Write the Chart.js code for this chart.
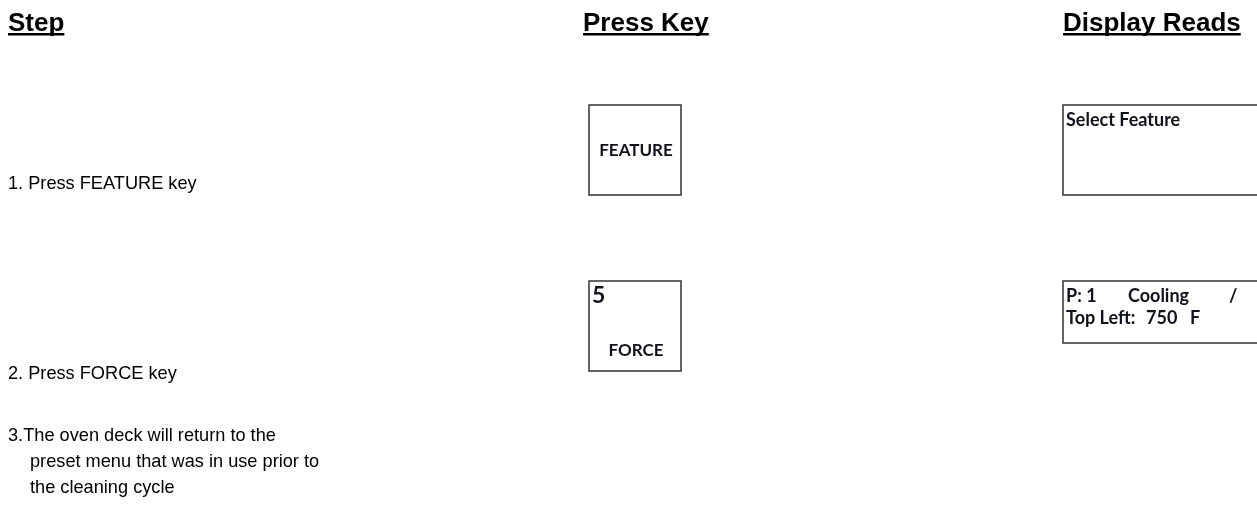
<!DOCTYPE html>
<html>
<head>
<meta charset="utf-8">
<script src="https://cdn.jsdelivr.net/npm/chart.js@4/dist/chart.umd.min.js"></script>
<style>
  html, body { margin: 0; padding: 0; background: #fff; }
  #wrap { width: 1257px; height: 510px; }
</style>
</head>
<body>
<div id="wrap"><canvas id="c" width="1257" height="510"></canvas></div>
<script>
// content of the page
var headers = ['Step', 'Press Key', 'Display Reads'];
var steps = [
    ['1. Press FEATURE key'],
    ['2. Press FORCE key'],
    ['3.The oven deck will return to the', 'preset menu that was in use prior to', 'the cleaning cycle']
];
var keyNumbers = ['', '5'];
var keyNames = ['FEATURE', 'FORCE'];
var displayRows = [
    [['Select Feature']],
    [['P: 1', 'Cooling', '/'], ['Top Left:', '750', 'F']]
];

// layout (page pixels, used as axis values)
var headerX = [8, 583, 1063];
var headerY = 31;
var stepY = [189, 379, 441];
var stepLineGap = 26;
var stepIndent = 22;
var keyBoxes = [[589, 105, 681, 195], [589, 281, 681, 371]];
var displayBoxes = [[1063, 105, 1262, 195], [1063, 281, 1262, 343]];
var displayColX = [1066, 1128, 1229];
var displayColX2 = [1066, 1146, 1190];

var bodyFont = '18.2px "Liberation Sans", Arial, sans-serif';
var headFont = 'bold 26px "Liberation Sans", Arial, sans-serif';
var keyFont = 'bold 17px Lato, "Open Sans", sans-serif';
var displayFont = 'bold 18px Lato, "Open Sans", sans-serif';

var pagePlugin = {
    id: 'page',
    afterDraw: function (chart) {
        var ctx = chart.ctx;
        var sx = chart.scales.x, sy = chart.scales.y;
        function X(v) { return sx.getPixelForValue(v); }
        function Y(v) { return sy.getPixelForValue(v); }
        ctx.save();
        ctx.textBaseline = 'alphabetic';
        ctx.fillStyle = '#000';

        // headers, bold + underlined
        ctx.font = headFont;
        headers.forEach(function (h, i) {
            var w = ctx.measureText(h).width;
            ctx.fillText(h, X(headerX[i]), Y(headerY));
            ctx.fillRect(X(headerX[i]), Y(headerY + 2), w, 2.5);
        });

        // step texts
        ctx.font = bodyFont;
        steps.forEach(function (lines, i) {
            lines.forEach(function (t, j) {
                var x = headerX[0] + (j > 0 ? stepIndent : 0);
                ctx.fillText(t, X(x), Y(stepY[i] + j * stepLineGap));
            });
        });

        // key boxes
        ctx.strokeStyle = '#333';
        ctx.lineWidth = 1.5;
        keyBoxes.forEach(function (b, i) {
            ctx.strokeRect(X(b[0]), Y(b[1]), X(b[2]) - X(b[0]), Y(b[3]) - Y(b[1]));
            ctx.fillStyle = '#10121c';
            ctx.font = keyFont;
            ctx.textAlign = 'center';
            if (keyNumbers[i]) {
                ctx.textAlign = 'left';
                ctx.font = 'bold 23px Lato, "Open Sans", sans-serif';
                ctx.fillText(keyNumbers[i], X(b[0] + 3), Y(b[1] + 22));
                ctx.font = keyFont;
                ctx.textAlign = 'center';
                ctx.fillText(keyNames[i], X((b[0] + b[2]) / 2 + 1), Y(b[1] + 75));
            } else {
                ctx.fillText(keyNames[i], X((b[0] + b[2]) / 2 + 1), Y((b[1] + b[3]) / 2 + 6));
            }
        });
        ctx.textAlign = 'left';

        // display boxes
        ctx.font = displayFont;
        displayBoxes.forEach(function (b, i) {
            ctx.strokeRect(X(b[0]), Y(b[1]), X(b[2]) - X(b[0]), Y(b[3]) - Y(b[1]));
            displayRows[i].forEach(function (row, r) {
                var cols = r === 0 ? displayColX : displayColX2;
                row.forEach(function (t, k) {
                    ctx.fillText(t, X(cols[k]), Y(b[1] + 21 + r * 22));
                });
            });
        });
        ctx.restore();
    }
};

new Chart(document.getElementById('c'), {
    type: 'scatter',
    data: { datasets: [{ data: [] }] },
    options: {
        responsive: false,
        animation: false,
        layout: { padding: 0 },
        plugins: { legend: { display: false }, tooltip: { enabled: false } },
        scales: {
            x: { type: 'linear', min: 0, max: 1257, display: false },
            y: { type: 'linear', min: 0, max: 510, reverse: true, display: false }
        }
    },
    plugins: [pagePlugin]
});
</script>
</body>
</html>
